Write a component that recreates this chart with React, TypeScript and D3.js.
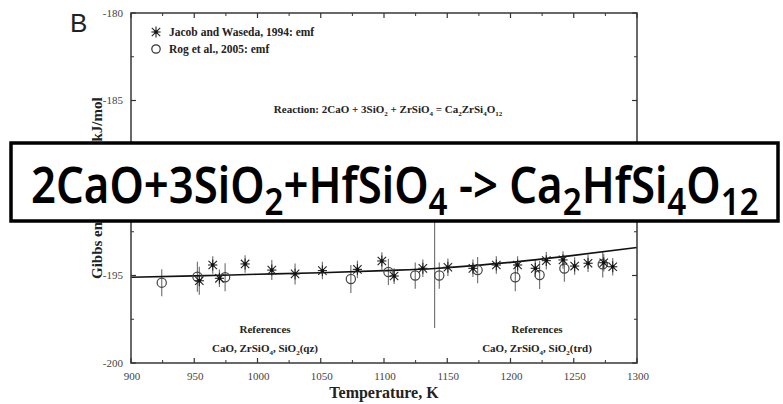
import React, { useLayoutEffect, useRef, useState } from "react";
import * as d3 from "d3";

// ---- data ----
const xDomain = [900, 1300];
const yDomain = [-200, -180];
const xTicksMajor = [900, 950, 1000, 1050, 1100, 1150, 1200, 1250, 1300];
const yTicksMajor = [-200, -195, -190, -185, -180];

// Jacob and Waseda, 1994: emf (asterisks)
const jacobT = [954, 964.6, 969.9, 990.2, 1011.3, 1029.7, 1051.3, 1079, 1098.3, 1108, 1130.7, 1150.5, 1170.3, 1188.8, 1205.6, 1219.6, 1228.3, 1241.5, 1250.7, 1261.3, 1273.7, 1280.8];
const jacobG = [-195.3, -194.4, -195.16, -194.34, -194.69, -194.91, -194.72, -194.65, -194.17, -195.03, -194.59, -194.53, -194.59, -194.4, -194.4, -194.59, -194.15, -194.11, -194.46, -194.3, -194.27, -194.5];
const jacobErr = [0.8, 0.5, 0.5, 0.5, 0.57, 0.6, 0.5, 0.5, 0.5, 0.45, 0.5, 0.5, 0.5, 0.5, 0.5, 0.5, 0.5, 0.5, 0.5, 0.5, 0.5, 0.5];

// Rog et al., 2005: emf (circles)
const rogT = [924.3, 952.5, 974.4, 1073.8, 1103.5, 1124.7, 1143.7, 1174, 1203.8, 1223, 1242.6, 1272.9];
const rogG = [-195.41, -195.07, -195.1, -195.2, -194.8, -195.0, -195.0, -194.69, -195.1, -194.97, -194.6, -194.36];
const rogErr = [0.77, 0.86, 0.8, 0.8, 0.75, 0.75, 0.75, 0.75, 0.8, 0.8, 0.75, 0.75];

// assessed Gibbs energy curve
const curveT = [900, 950, 1000, 1050, 1100, 1140, 1150, 1200, 1250, 1300];
const curveG = [-195.1, -195.02, -194.93, -194.84, -194.72, -194.6, -194.55, -194.25, -193.85, -193.4];

// phase transition marker
const transitionT = 1140;
const transitionRange = [-198.0, -188.2];

const W = 783;
const H = 404;
const M = { left: 131, right: 637, top: 13, bottom: 363 };

const serif = "'Liberation Serif', 'Times New Roman', serif";

type Seg = { t: string; sub?: boolean };
function parseChem(s: string): Seg[] {
  const out: Seg[] = [];
  const re = /_(\d+)|([^_]+)/g;
  let m;
  while ((m = re.exec(s))) {
    if (m[1]) out.push({ t: m[1], sub: true });
    else out.push({ t: m[2] });
  }
  return out;
}

function Chem({ s, subSize, shift }: { s: string; subSize: number; shift: number }) {
  const segs = parseChem(s);
  let prevSub = false;
  return (
    <>
      {segs.map((g, i) => {
        let dy = 0;
        if (g.sub && !prevSub) dy = shift;
        if (!g.sub && prevSub) dy = -shift;
        prevSub = !!g.sub;
        return (
          <tspan key={i} dy={dy} fontSize={g.sub ? subSize : undefined}>
            {g.t}
          </tspan>
        );
      })}
    </>
  );
}

export default function App() {
  const x = d3.scaleLinear().domain(xDomain).range([M.left, M.right]);
  const y = d3.scaleLinear().domain(yDomain).range([M.bottom, M.top]);

  const line = d3
    .line<number>()
    .x((_, i) => x(curveT[i]))
    .y((d) => y(d))
    .curve(d3.curveMonotoneX);

  const xMinor = d3.range(925, 1300, 50);
  const yMinor = d3.range(-197.5, -180, 5);

  const bigRef = useRef<SVGTextElement>(null);
  const [sx, setSx] = useState(1);
  const targetLeft = 31;
  const targetWidth = 728;
  useLayoutEffect(() => {
    if (bigRef.current) {
      const len = bigRef.current.getComputedTextLength();
      if (len > 0) setSx(targetWidth / len);
    }
  }, []);

  const tickColor = "#333";

  const star = (cx: number, cy: number, k: string) => {
    const r = 4.2;
    return (
      <g key={k} stroke="#222" strokeWidth={1.1}>
        <line x1={cx - r} y1={cy - r} x2={cx + r} y2={cy + r} />
        <line x1={cx - r} y1={cy + r} x2={cx + r} y2={cy - r} />
        <line x1={cx - r * 1.1} y1={cy} x2={cx + r * 1.1} y2={cy} />
        <line x1={cx} y1={cy - r * 1.3} x2={cx} y2={cy + r * 1.3} />
        <rect x={cx - 1.6} y={cy - 1.6} width={3.2} height={3.2} fill="#111" stroke="none" />
      </g>
    );
  };

  return (
    <svg
      width={W}
      height={H}
      style={{ position: "absolute", left: 0, top: 0, background: "#fff" }}
    >
      <rect width={W} height={H} fill="#fff" />

      {/* panel letter */}
      <text x={70} y={32} fontFamily="'Liberation Sans', Arial, sans-serif" fontSize={26} fill="#222">
        B
      </text>

      {/* transition marker */}
      <line
        x1={x(transitionT)}
        x2={x(transitionT)}
        y1={y(transitionRange[0])}
        y2={y(transitionRange[1])}
        stroke="#777"
        strokeWidth={1.2}
      />

      {/* error bars */}
      {jacobT.map((t, i) => (
        <line key={"je" + i} x1={x(t)} x2={x(t)} y1={y(jacobG[i] - jacobErr[i])} y2={y(jacobG[i] + jacobErr[i])} stroke="#777" strokeWidth={1.2} />
      ))}
      {rogT.map((t, i) => (
        <line key={"re" + i} x1={x(t)} x2={x(t)} y1={y(rogG[i] - rogErr[i])} y2={y(rogG[i] + rogErr[i])} stroke="#777" strokeWidth={1.2} />
      ))}

      {/* curve */}
      <path d={line(curveG) || ""} fill="none" stroke="#111" strokeWidth={1.6} />

      {/* markers */}
      {rogT.map((t, i) => (
        <circle key={"rc" + i} cx={x(t)} cy={y(rogG[i])} r={4.6} fill="#fff" fillOpacity={0} stroke="#444" strokeWidth={1.2} />
      ))}
      {jacobT.map((t, i) => star(x(t), y(jacobG[i]), "js" + i))}

      {/* frame */}
      <rect x={M.left} y={M.top} width={M.right - M.left} height={M.bottom - M.top} fill="none" stroke="#444" strokeWidth={1.6} />

      {/* x ticks */}
      {xTicksMajor.map((t) => (
        <g key={"xt" + t} stroke={tickColor} strokeWidth={1.2}>
          <line x1={x(t)} x2={x(t)} y1={M.bottom} y2={M.bottom - 5} />
          <line x1={x(t)} x2={x(t)} y1={M.top} y2={M.top + 5} />
        </g>
      ))}
      {xMinor.map((t) => (
        <g key={"xm" + t} stroke={tickColor} strokeWidth={1}>
          <line x1={x(t)} x2={x(t)} y1={M.bottom} y2={M.bottom - 3} />
          <line x1={x(t)} x2={x(t)} y1={M.top} y2={M.top + 3} />
        </g>
      ))}
      {xTicksMajor.map((t) => (
        <text key={"xl" + t} x={x(t) + 1} y={380} textAnchor="middle" fontFamily={serif} fontSize={11} fill="#444">
          {t}
        </text>
      ))}

      {/* y ticks */}
      {yTicksMajor.map((v) => (
        <g key={"yt" + v} stroke={tickColor} strokeWidth={1.2}>
          <line x1={M.left} x2={M.left + 5} y1={y(v)} y2={y(v)} />
          <line x1={M.right} x2={M.right - 5} y1={y(v)} y2={y(v)} />
        </g>
      ))}
      {yMinor.map((v) => (
        <g key={"ym" + v} stroke={tickColor} strokeWidth={1}>
          <line x1={M.left} x2={M.left + 3} y1={y(v)} y2={y(v)} />
          <line x1={M.right} x2={M.right - 3} y1={y(v)} y2={y(v)} />
        </g>
      ))}
      {yTicksMajor.map((v) => (
        <text key={"yl" + v} x={123} y={y(v) + 3.5} textAnchor="end" fontFamily={serif} fontSize={11} fill="#444">
          {v}
        </text>
      ))}

      {/* axis titles */}
      <text x={384} y={398} textAnchor="middle" fontFamily={serif} fontWeight="bold" fontSize={16} fill="#222">
        Temperature, K
      </text>
      <text
        transform={`translate(102, 279) rotate(-90)`}
        textAnchor="start"
        fontFamily={serif}
        fontWeight="bold"
        fontSize={15}
        fill="#222"
      >
        <tspan x={0}>Gibbs energy</tspan>
        <tspan x={130}>, kJ/mol</tspan>
      </text>

      {/* legend */}
      {star(156, 32, "leg1")}
      <text x={169} y={36} fontFamily={serif} fontWeight="bold" fontSize={11.5} fill="#222">
        Jacob and Waseda, 1994: emf
      </text>
      <circle cx={156} cy={49} r={4.2} fill="none" stroke="#333" strokeWidth={1.2} />
      <text x={169} y={53} fontFamily={serif} fontWeight="bold" fontSize={11.5} fill="#222">
        Rog et al., 2005: emf
      </text>

      {/* reaction */}
      <text x={388} y={113} textAnchor="middle" fontFamily={serif} fontWeight="bold" fontSize={11} fill="#222">
        <Chem s={"Reaction: 2CaO + 3SiO_2 + ZrSiO_4 = Ca_2ZrSi_4O_12"} subSize={7} shift={2.5} />
      </text>

      {/* references */}
      <text x={265} y={333} textAnchor="middle" fontFamily={serif} fontWeight="bold" fontSize={11} fill="#222">
        References
      </text>
      <text x={265} y={352} textAnchor="middle" fontFamily={serif} fontWeight="bold" fontSize={11} fill="#222">
        <Chem s={"CaO, ZrSiO_4, SiO_2(qz)"} subSize={7} shift={2.5} />
      </text>
      <text x={537} y={333} textAnchor="middle" fontFamily={serif} fontWeight="bold" fontSize={11} fill="#222">
        References
      </text>
      <text x={537} y={352} textAnchor="middle" fontFamily={serif} fontWeight="bold" fontSize={11} fill="#222">
        <Chem s={"CaO, ZrSiO_4, SiO_2(trd)"} subSize={7} shift={2.5} />
      </text>

      {/* overlay box */}
      <rect x={11} y={143} width={767} height={78} fill="#fff" stroke="#000" strokeWidth={3.5} />
      <g transform={`translate(${targetLeft}, 0) scale(${sx}, 1)`}>
        <text ref={bigRef} x={0} y={203} fontFamily="'Noto Sans', 'Open Sans', sans-serif" fontWeight={600} fontSize={50} fill="#000">
          <Chem s={"2CaO+3SiO_2+HfSiO_4 -> Ca_2HfSi_4O_12"} subSize={38} shift={12} />
        </text>
      </g>
    </svg>
  );
}
